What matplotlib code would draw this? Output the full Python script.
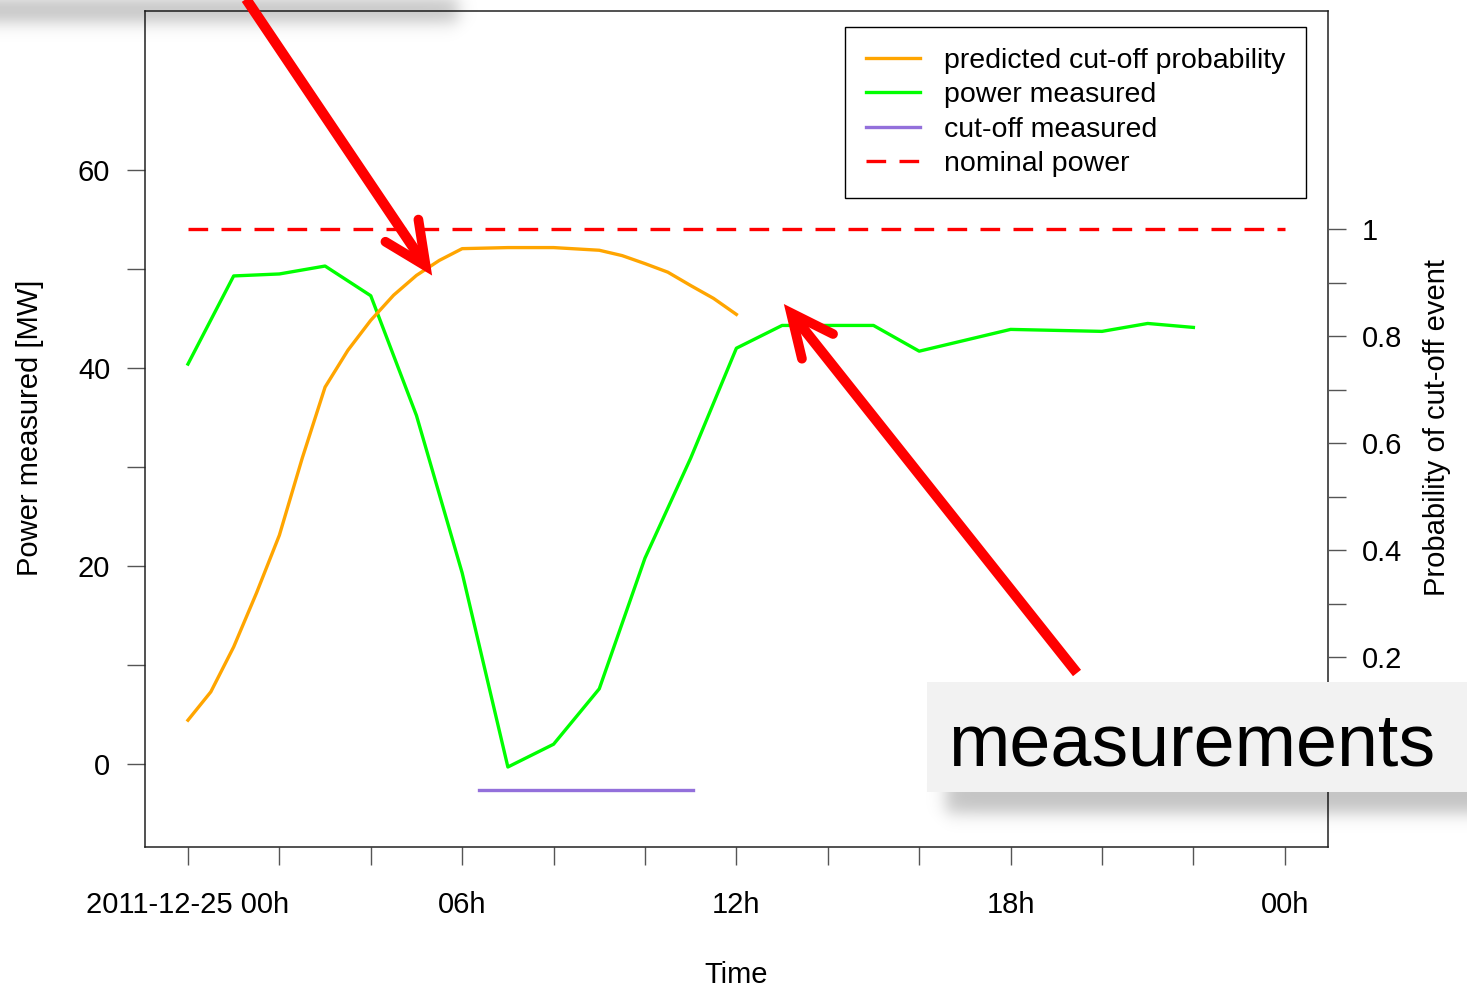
import numpy as np
import matplotlib
matplotlib.use("Agg")
import matplotlib.pyplot as plt
from matplotlib.lines import Line2D
from matplotlib.patches import Rectangle

plt.rcParams['font.family'] = ['Liberation Sans', 'DejaVu Sans']

# --- data, x in hours after 2011-12-25 00h ---
power_hours = list(range(23))
power_mw = [40.4, 49.3, 49.5, 50.3, 47.3, 35.2, 19.3, -0.3, 2.0, 7.6, 20.8, 30.9,
            42.0, 44.3, 44.3, 44.3, 41.7, 42.8, 43.9, 43.8, 43.7, 44.5, 44.1]
prob_hours = [0, 0.5, 1, 1.5, 2, 2.5, 3, 3.5, 4, 4.5, 5, 5.5, 6, 7, 8, 9, 9.5,
              10, 10.5, 11, 11.5, 12]
prob_cutoff = [0.082, 0.135, 0.219, 0.320, 0.428, 0.572, 0.705, 0.774, 0.830,
               0.877, 0.914, 0.942, 0.964, 0.966, 0.966, 0.961, 0.951, 0.936,
               0.920, 0.895, 0.871, 0.841]
cutoff_hours = [6.37, 11.05]
cutoff_mw = [-2.6, -2.6]
nominal_hours = [0, 24]
nominal_mw = [54, 54]

x_ticks = list(range(0, 25, 2))
x_tick_labels = ["2011-12-25 00h", "", "", "06h", "", "", "12h", "", "", "18h", "", "", "00h"]
y_ticks = list(range(0, 61, 10))
y_tick_labels = ["0", "", "20", "", "40", "", "60"]
p_ticks = [0.0, 0.1, 0.2, 0.3, 0.4, 0.5, 0.6, 0.7, 0.8, 0.9, 1.0]
# the 0 label sits behind the "measurements" box in the original
p_tick_labels = ["", "", "0.2", "", "0.4", "", "0.6", "", "0.8", "", "1"]

legend_labels = ["predicted cut-off probability", "power measured",
                 "cut-off measured", "nominal power"]

ORANGE = "#ffa500"
GREEN = "#00ff00"
PURPLE = "#9370db"
RED = "#ff0000"
DASH = (5.9, 4.0)
LW = 2.4

W, H = 1467, 994


def soft_shadow(ov, x0, x1, y0, y1, s, alpha):
    # blurred rectangle drawn as an rgba image in pixel coords
    pad = 4 * s
    ex0, ex1, ey0, ey1 = x0 - pad, x1 + pad, y0 - pad, y1 + pad
    xs = np.arange(int(ex1 - ex0)) + ex0 + 0.5
    ys = np.arange(int(ey1 - ey0)) + ey0 + 0.5
    fx = 1 / (1 + np.exp(-(xs - x0) / s)) - 1 / (1 + np.exp(-(xs - x1) / s))
    fy = 1 / (1 + np.exp(-(ys - y0) / s)) - 1 / (1 + np.exp(-(ys - y1) / s))
    img = np.zeros((len(ys), len(xs), 4))
    img[..., 3] = alpha * fy[:, None] * fx[None, :]
    ov.imshow(img, extent=(ex0, ex1, ey1, ey0), origin="upper",
              interpolation="bilinear", aspect="auto", zorder=1)


def draw_arrow(ov, tail, tip, head_len=47, head_ang=25):
    tail = np.array(tail, float)
    tip = np.array(tip, float)
    d = (tip - tail) / np.hypot(*(tip - tail))
    wings = []
    for ang in (head_ang, -head_ang):
        a = np.radians(ang)
        rot = np.array([[np.cos(a), -np.sin(a)], [np.sin(a), np.cos(a)]])
        wings.append(tip + head_len * (rot @ -d))
    shaft_end = tip - d * 10
    ov.plot([tail[0], shaft_end[0]], [tail[1], shaft_end[1]], color=RED,
            lw=7.4, solid_capstyle="butt", zorder=5)
    ov.plot([wings[0][0], tip[0], wings[1][0]], [wings[0][1], tip[1], wings[1][1]],
            color=RED, lw=7.0, solid_capstyle="round", solid_joinstyle="miter", zorder=5)


fig = plt.figure(figsize=(W / 100, H / 100), dpi=100)
ax = fig.add_axes([145 / W, 1 - 847 / H, (1328 - 145) / W, (847 - 11) / H])
ax2 = ax.twinx()

ylo, yhi = -8.38, 76.06
ax.set_xlim(-0.94, 24.945)
ax.set_ylim(ylo, yhi)
ax2.set_ylim(ylo / 54, yhi / 54)

ax.plot(power_hours, power_mw, color=GREEN, lw=LW)
ax.plot(cutoff_hours, cutoff_mw, color=PURPLE, lw=LW)
ax.plot(nominal_hours, nominal_mw, color=RED, lw=LW, dashes=DASH)
ax2.plot(prob_hours, prob_cutoff, color=ORANGE, lw=LW)

ax.set_xticks(x_ticks)
ax.set_xticklabels(x_tick_labels)
ax.set_yticks(y_ticks)
ax.set_yticklabels(y_tick_labels)
ax2.set_yticks(p_ticks)
ax2.set_yticklabels(p_tick_labels)

ax.tick_params(axis="x", length=13, width=1, color="#555555", labelsize=21, pad=19)
ax.tick_params(axis="y", length=13, width=1, color="#555555", labelsize=21, pad=12)
ax2.tick_params(axis="y", length=13, width=1, color="#555555", labelsize=21, pad=11.5)

for sp in ax.spines.values():
    sp.set_linewidth(1.1)
    sp.set_color("#222222")
for sp in ax2.spines.values():
    sp.set_visible(False)

fig.text(30 / W, 1 - 428 / H, "Power measured [MW]", rotation=90,
         ha="center", va="center", fontsize=21)
fig.text(1437 / W, 1 - 428 / H, "Probability of cut-off event", rotation=90,
         ha="center", va="center", fontsize=21)
fig.text(736 / W, 1 - 983 / H, "Time", ha="center", va="baseline", fontsize=21)

handles = [Line2D([], [], color=ORANGE, lw=LW),
           Line2D([], [], color=GREEN, lw=LW),
           Line2D([], [], color=PURPLE, lw=LW),
           Line2D([], [], color=RED, lw=LW, dashes=DASH)]
leg = fig.legend(handles, legend_labels, loc="upper right",
                 bbox_to_anchor=(1306 / W, 1 - 27 / H), fontsize=20.5,
                 frameon=True, fancybox=False, edgecolor="black", framealpha=1,
                 borderpad=0.72, handlelength=1.9, handletextpad=0.85,
                 labelspacing=0.3, borderaxespad=0)
leg.get_frame().set_linewidth(1.0)

# --- annotation layer in pixel coordinates ---
ov = fig.add_axes([0, 0, 1, 1], zorder=10)
ov.patch.set_alpha(0)
soft_shadow(ov, -100, 458, -2, 22, 5, 0.24)
soft_shadow(ov, 946, 1520, 775, 813, 5, 0.24)
ov.add_patch(Rectangle((927, 682), 560, 110, facecolor="#f2f2f2",
                       edgecolor="none", zorder=2))
ov.text(1192, 765, "measurements", ha="center", va="baseline",
        fontsize=53, zorder=3)
draw_arrow(ov, (240, -10), (425.7, 266))
draw_arrow(ov, (1077, 673), (791, 313))
ov.set_xlim(0, W)
ov.set_ylim(H, 0)
ov.axis("off")

fig.savefig("out.png", dpi=100, facecolor="white")
